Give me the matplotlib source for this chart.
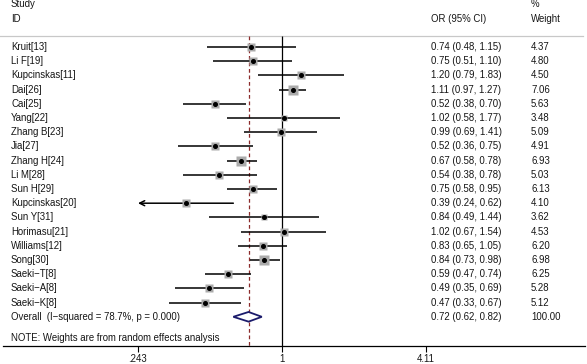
import numpy as np
import matplotlib
matplotlib.use("Agg")
from matplotlib import pyplot as plt
from matplotlib import transforms

studies = ["Kruit[13]", "Li F[19]", "Kupcinskas[11]", "Dai[26]", "Cai[25]", "Yang[22]",
           "Zhang B[23]", "Jia[27]", "Zhang H[24]", "Li M[28]", "Sun H[29]", "Kupcinskas[20]",
           "Sun Y[31]", "Horimasu[21]", "Williams[12]", "Song[30]", "Saeki\u2212T[8]",
           "Saeki\u2212A[8]", "Saeki\u2212K[8]"]
or_est = [0.74, 0.75, 1.20, 1.11, 0.52, 1.02, 0.99, 0.52, 0.67, 0.54, 0.75, 0.39,
          0.84, 1.02, 0.83, 0.84, 0.59, 0.49, 0.47]
ci_lo = [0.48, 0.51, 0.79, 0.97, 0.38, 0.58, 0.69, 0.36, 0.58, 0.38, 0.58, 0.24,
         0.49, 0.67, 0.65, 0.73, 0.47, 0.35, 0.33]
ci_hi = [1.15, 1.10, 1.83, 1.27, 0.70, 1.77, 1.41, 0.75, 0.78, 0.78, 0.95, 0.62,
         1.44, 1.54, 1.05, 0.98, 0.74, 0.69, 0.67]
weights = [4.37, 4.80, 4.50, 7.06, 5.63, 3.48, 5.09, 4.91, 6.93, 5.03, 6.13, 4.10,
           3.62, 4.53, 6.20, 6.98, 6.25, 5.28, 5.12]

overall_label = "Overall  (I\u2212squared = 78.7%, p = 0.000)"
overall = (0.72, 0.62, 0.82)
overall_weight = "100.00"
note = "NOTE: Weights are from random effects analysis"

xticks = [0.243, 1, 4.11]
xticklabels = [".243", "1", "4.11"]

plt.rcParams["font.family"] = ["Liberation Sans", "DejaVu Sans"]
plt.rcParams["font.size"] = 6.9
txt_col = "#151515"

W, H = 587, 364
fig = plt.figure(figsize=(W / 100, H / 100), dpi=100)

# axis geometry in pixels
left_px, right_px, one_px, px_per_ln = 3, 585, 282, 101.8
bottom_px = 346
row0_px, row_step = 47, 14.2

ax = fig.add_axes([left_px / W, (H - bottom_px) / H, (right_px - left_px) / W, bottom_px / H])
ax.set_xscale("log")
ax.set_xlim(np.exp(-(one_px - left_px) / px_per_ln), np.exp((right_px - one_px) / px_per_ln))

def row_of(px):
    return (px - row0_px) / row_step + 1

y_top = row_of(0)
y_bot = row_of(bottom_px)
ax.set_ylim(y_bot, y_top)

for s in ["left", "right", "top"]:
    ax.spines[s].set_visible(False)
ax.spines["bottom"].set_linewidth(0.9)
ax.set_yticks([])
ax.set_xticks(xticks)
ax.set_xticklabels(xticklabels, color=txt_col)
ax.minorticks_off()
ax.tick_params(axis="x", length=4, width=0.8, pad=2, labelsize=6.9)

tr = transforms.blended_transform_factory(fig.transFigure, ax.transData)
sep_y = row_of(36)

# header
ax.text(11 / W, -2, "Study", transform=tr, va="center", color=txt_col)
ax.text(11 / W, -1, "ID", transform=tr, va="center", color=txt_col)
ax.text(431 / W, -1, "OR (95% CI)", transform=tr, va="center", color=txt_col)
ax.text(531 / W, -2, "%", transform=tr, va="center", color=txt_col)
ax.text(531 / W, -1, "Weight", transform=tr, va="center", color=txt_col)
ax.plot([0, 583 / W], [sep_y, sep_y], transform=tr, color="#c8c8c8", lw=0.9, clip_on=False)

# reference lines
ax.vlines(1, sep_y, y_bot, color="black", lw=0.9)
ax.vlines(overall[0], sep_y, y_bot, color="#8c2b2b", lw=0.9, linestyles=(0, (3, 2.2)))

xmin_plot, xmax_plot = xticks[0], xticks[-1]
rows = np.arange(1, len(studies) + 1)
for y, name, est, lo, hi, w in zip(rows, studies, or_est, ci_lo, ci_hi, weights):
    if lo < xmin_plot:
        ax.annotate("", xy=(xmin_plot, y), xytext=(hi, y),
                    arrowprops=dict(arrowstyle="->", lw=1.1, color="black",
                                    shrinkA=0, shrinkB=0, mutation_scale=9))
    else:
        ax.plot([lo, min(hi, xmax_plot)], [y, y], color="black", lw=1.1, solid_capstyle="butt")
    ax.plot(est, y, marker="s", ms=2.5 * np.sqrt(w), color="#ababab", mec="none", zorder=3)
    ax.plot(est, y, marker="o", ms=2.6, color="black", zorder=4)
    ax.text(11 / W, y, name, transform=tr, va="center", color=txt_col)
    ax.text(431 / W, y, f"{est:.2f} ({lo:.2f}, {hi:.2f})", transform=tr, va="center", color=txt_col)
    ax.text(531 / W, y, f"{w:.2f}", transform=tr, va="center", color=txt_col)

# overall diamond
oy = len(studies) + 1
e, l, h = overall
ax.fill([l, e, h, e, l], [oy, oy - 0.34, oy, oy + 0.34, oy], facecolor="white",
        edgecolor="#1b1b6b", lw=1.3, zorder=5)
ax.text(11 / W, oy, overall_label, transform=tr, va="center", color=txt_col)
ax.text(431 / W, oy, f"{e:.2f} ({l:.2f}, {h:.2f})", transform=tr, va="center", color=txt_col)
ax.text(531 / W, oy, overall_weight, transform=tr, va="center", color=txt_col)
ax.text(11 / W, oy + 1.5, note, transform=tr, va="center", color=txt_col)

fig.savefig("out.png", dpi=100)
